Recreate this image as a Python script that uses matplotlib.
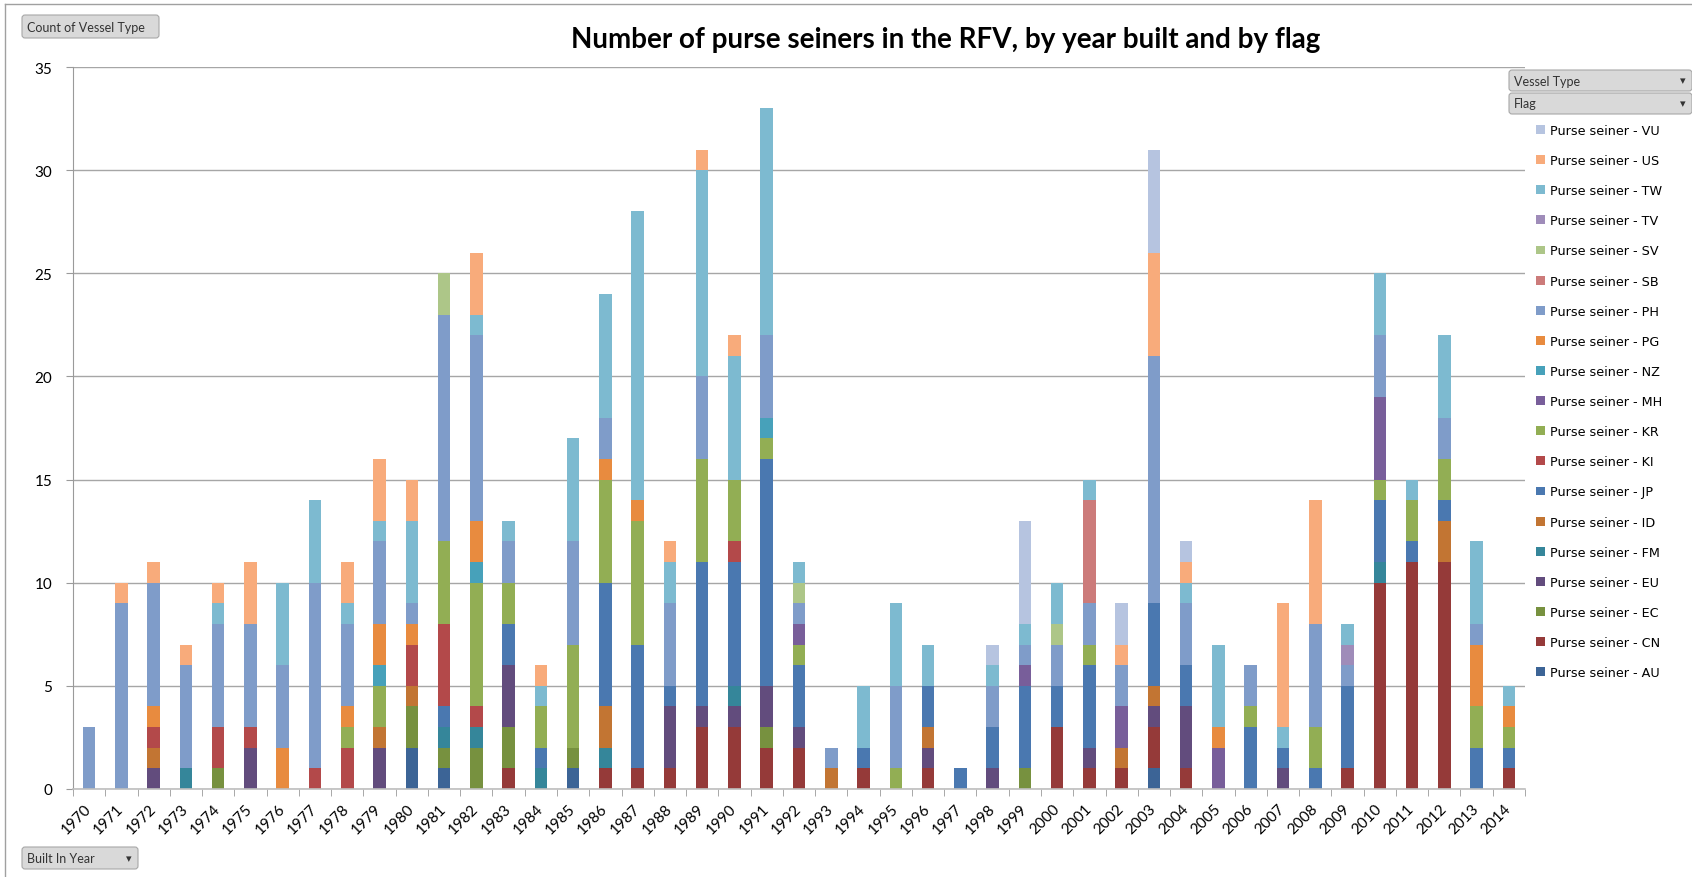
import numpy as np
import matplotlib
matplotlib.use("Agg")
import matplotlib.pyplot as plt
from matplotlib.patches import FancyBboxPatch
from matplotlib.transforms import IdentityTransform

# Années de construction
years = list(range(1970, 2015))

# Nombre de senneurs par pavillon (1970 .. 2014)
AU = [0,0,0,0,0,0,0,0,0,0, 2,1,0,0,0,1,0,0,0,0, 0,0,0,0,0,0,0,0,0,0, 0,0,0,1,0,0,0,0,0,0, 0,0,0,0,0]
CN = [0,0,0,0,0,0,0,0,0,0, 0,0,0,1,0,0,1,1,1,3, 3,2,2,0,1,0,1,0,0,0, 3,1,1,2,1,0,0,0,0,1, 10,11,11,0,1]
EC = [0,0,0,0,1,0,0,0,0,0, 2,1,2,2,0,1,0,0,0,0, 0,1,0,0,0,0,0,0,0,1, 0,0,0,0,0,0,0,0,0,0, 0,0,0,0,0]
EU = [0,0,1,0,0,2,0,0,0,2, 0,0,0,3,0,0,0,0,3,1, 1,2,1,0,0,0,1,0,1,0, 0,1,0,1,3,0,0,1,0,0, 0,0,0,0,0]
FM = [0,0,0,1,0,0,0,0,0,0, 0,1,1,0,1,0,1,0,0,0, 1,0,0,0,0,0,0,0,0,0, 0,0,0,0,0,0,0,0,0,0, 1,0,0,0,0]
ID = [0,0,1,0,0,0,0,0,0,1, 1,0,0,0,0,0,2,0,0,0, 0,0,0,1,0,0,1,0,0,0, 0,0,1,1,0,0,0,0,0,0, 0,0,2,0,0]
JP = [0,0,0,0,0,0,0,0,0,0, 0,1,0,2,1,0,6,6,1,7, 6,11,3,0,1,0,2,1,2,4, 2,4,0,4,2,0,3,1,1,4, 3,1,1,2,1]
KI = [0,0,1,0,2,1,0,1,2,0, 2,4,1,0,0,0,0,0,0,0, 1,0,0,0,0,0,0,0,0,0, 0,0,0,0,0,0,0,0,0,0, 0,0,0,0,0]
KR = [0,0,0,0,0,0,0,0,1,2, 0,4,6,2,2,5,5,6,0,5, 3,1,1,0,0,1,0,0,0,0, 0,1,0,0,0,0,1,0,2,0, 1,2,2,2,1]
MH = [0,0,0,0,0,0,0,0,0,0, 0,0,0,0,0,0,0,0,0,0, 0,0,1,0,0,0,0,0,0,1, 0,0,2,0,0,2,0,0,0,0, 4,0,0,0,0]
NZ = [0,0,0,0,0,0,0,0,0,1, 0,0,1,0,0,0,0,0,0,0, 0,1,0,0,0,0,0,0,0,0, 0,0,0,0,0,0,0,0,0,0, 0,0,0,0,0]
PG = [0,0,1,0,0,0,2,0,1,2, 1,0,2,0,0,0,1,1,0,0, 0,0,0,0,0,0,0,0,0,0, 0,0,0,0,0,1,0,0,0,0, 0,0,0,3,1]
PH = [3,9,6,5,5,5,4,9,4,4, 1,11,9,2,0,5,2,0,4,4, 0,4,1,1,0,4,0,0,2,1, 2,2,2,12,3,0,2,0,5,1, 3,0,2,1,0]
SB = [0,0,0,0,0,0,0,0,0,0, 0,0,0,0,0,0,0,0,0,0, 0,0,0,0,0,0,0,0,0,0, 0,5,0,0,0,0,0,0,0,0, 0,0,0,0,0]
SV = [0,0,0,0,0,0,0,0,0,0, 0,2,0,0,0,0,0,0,0,0, 0,0,1,0,0,0,0,0,0,0, 1,0,0,0,0,0,0,0,0,0, 0,0,0,0,0]
TV = [0,0,0,0,0,0,0,0,0,0, 0,0,0,0,0,0,0,0,0,0, 0,0,0,0,0,0,0,0,0,0, 0,0,0,0,0,0,0,0,0,1, 0,0,0,0,0]
TW = [0,0,0,0,1,0,4,4,1,1, 4,0,1,1,1,5,6,14,2,10, 6,11,1,0,3,4,2,0,1,1, 2,1,0,0,1,4,0,1,0,1, 3,1,4,4,1]
US = [0,1,1,1,1,3,0,0,2,3, 2,0,3,0,1,0,0,0,1,1, 1,0,0,0,0,0,0,0,0,0, 0,0,1,5,1,0,0,6,6,0, 0,0,0,0,0]
VU = [0,0,0,0,0,0,0,0,0,0, 0,0,0,0,0,0,0,0,0,0, 0,0,0,0,0,0,0,0,1,5, 0,0,2,5,1,0,0,0,0,0, 0,0,0,0,0]

flags = ["AU", "CN", "EC", "EU", "FM", "ID", "JP", "KI", "KR", "MH",
         "NZ", "PG", "PH", "SB", "SV", "TV", "TW", "US", "VU"]
series = [AU, CN, EC, EU, FM, ID, JP, KI, KR, MH, NZ, PG, PH, SB, SV, TV, TW, US, VU]
colors = ["#3C6496", "#953A39", "#77913F", "#624C7D", "#35869A", "#C27533",
          "#4A78B0", "#B3494A", "#92AE54", "#785E9A", "#47A1BA", "#E88B3F",
          "#7F9CC9", "#CC7B7A", "#ADC688", "#9F8CB9", "#7DBAD0", "#F8AB7B",
          "#B6C4E0"]

W, H = 1692, 878
fig = plt.figure(figsize=(W / 100, H / 100), dpi=100)
ax = fig.add_axes([73 / W, 88 / H, (1525 - 73) / W, (790 - 68) / H])

x = np.arange(len(years))
bottom = np.zeros(len(years))
bars = []
for name, vals, col in zip(flags, series, colors):
    b = ax.bar(x, vals, 0.39, bottom=bottom, color=col, linewidth=0,
               label="Purse seiner - " + name)
    bars.append(b)
    bottom += np.array(vals)

ax.set_xlim(-0.5, len(years) - 0.5)
ax.set_ylim(0, 35)
ax.set_yticks(range(0, 36, 5))
ax.yaxis.grid(True, color="#A6A6A6", linewidth=1)
ax.set_axisbelow(True)

for s in ["top", "right"]:
    ax.spines[s].set_visible(False)
ax.spines["left"].set_color("#9A9A9A")
ax.spines["bottom"].set_color("#BFBFBF")
ax.spines["bottom"].set_linewidth(1.2)

ax.set_xticks(x)
ax.set_xticklabels([str(y) for y in years], rotation=45, ha="right",
                   va="center", rotation_mode="anchor", fontsize=11,
                   family="Lato")
ax.set_xticks(np.arange(-0.5, len(years)), minor=True)
ax.tick_params(axis="x", which="major", length=0, pad=12)
ax.tick_params(axis="x", which="minor", length=5, color="#9A9A9A")
ax.tick_params(axis="y", length=5, color="#9A9A9A", pad=10)
for lab in ax.get_yticklabels():
    lab.set_fontsize(11)
    lab.set_family("Lato")

fig.text(946 / W, 1 - 40 / H,
         "Number of purse seiners in the RFV, by year built and by flag",
         ha="center", va="center", fontsize=20, fontweight="bold",
         family="Lato")

fig.legend(bars[::-1], [b.get_label() for b in bars[::-1]],
           loc="upper left", bbox_to_anchor=(1536 / W, 1 - 125 / H),
           frameon=False, fontsize=9.2, handlelength=0.7, handleheight=0.7,
           handletextpad=0.4, labelspacing=1.34, borderpad=0,
           borderaxespad=0)

# Cadre extérieur et boutons du tableau croisé
fig.add_artist(plt.Line2D([5 / W, 5 / W], [0, 1 - 5 / H], color="#A0A0A0",
                          linewidth=1, transform=fig.transFigure))
fig.add_artist(plt.Line2D([5 / W, 1], [1 - 5 / H, 1 - 5 / H], color="#A0A0A0",
                          linewidth=1, transform=fig.transFigure))


def button(x0, y0, x1, y1, text, icon=None):
    p = FancyBboxPatch((x0, H - y1), x1 - x0, y1 - y0,
                       boxstyle="round,pad=0,rounding_size=3",
                       facecolor="#D9D9D9", edgecolor="#A8A8A8",
                       linewidth=0.8, transform=IdentityTransform())
    fig.add_artist(p)
    fig.text((x0 + 5) / W, 1 - (y0 + y1) / 2 / H, text, ha="left",
             va="center", fontsize=9, family="Lato", color="#333333")
    if icon:
        fig.text((x1 - 6) / W, 1 - (y0 + y1) / 2 / H, icon, ha="right",
                 va="center", fontsize=8, color="#333333")


button(22, 16, 159, 39, "Count of Vessel Type")
button(1509, 71, 1692, 92, "Vessel Type", "\u25be")
button(1509, 94, 1692, 115, "Flag", "\u25be")
button(22, 848, 138, 870, "Built In Year", "\u25be")

fig.savefig("out.png", dpi=100)
